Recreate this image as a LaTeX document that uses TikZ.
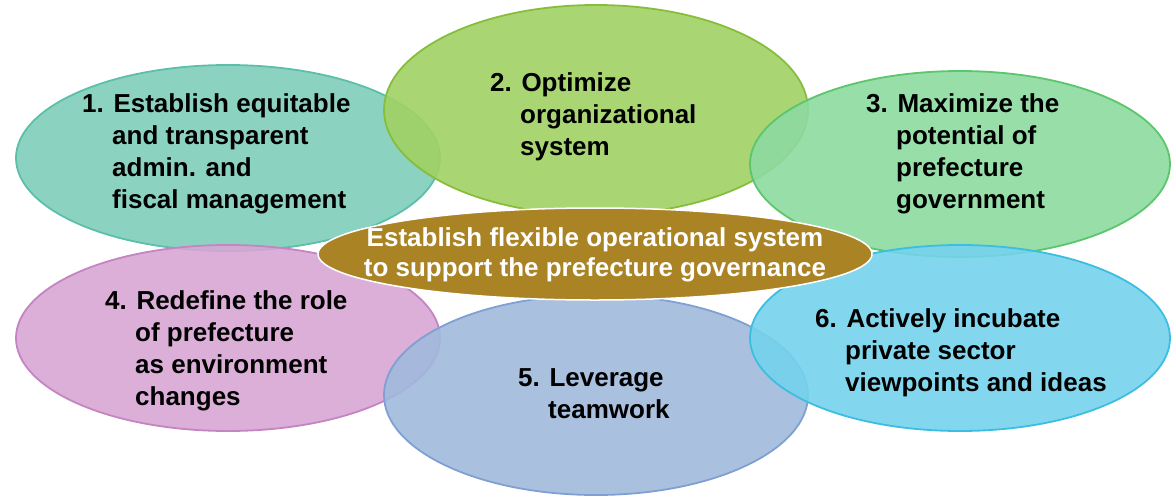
\documentclass[tikz,border=0pt]{standalone}
\usepackage{fontspec}
\setmainfont{Liberation Sans}
\usetikzlibrary{shapes.geometric}
\definecolor{tealfill}{HTML}{80CDB9}\definecolor{tealline}{HTML}{5CBFAA}
\definecolor{greenfill}{HTML}{A0D264}\definecolor{greenline}{HTML}{86BE3C}
\definecolor{mintfill}{HTML}{8CDAA0}\definecolor{mintline}{HTML}{5CC66C}
\definecolor{pinkfill}{HTML}{D7A6D3}\definecolor{pinkline}{HTML}{C584C2}
\definecolor{bluefill}{HTML}{A0B9DC}\definecolor{blueline}{HTML}{7FA0D2}
\definecolor{cyanfill}{HTML}{74D3EC}\definecolor{cyanline}{HTML}{3EBDE2}
\definecolor{corefill}{HTML}{AA8324}
\newcommand\ind{\hspace*{30pt}}
\begin{document}
\begin{tikzpicture}[x=1pt, y=-1pt,
  goal/.style = {ellipse, draw, line width=1.8pt, fill opacity=0.9, inner sep=0pt,
                 minimum width=424pt, minimum height=186pt},
  label/.style = {anchor=north west, align=left, inner sep=0pt,
                  font=\fontsize{26}{32}\selectfont\bfseries}]
  \useasboundingbox (0,0) rectangle (1171,499);
  % the six goals
  \node[goal, fill=tealfill, draw=tealline] (e1) at (228,158) {};
  \node[goal, fill=greenfill, draw=greenline, minimum height=210pt] (e2) at (596,110) {};
  \node[goal, fill=mintfill, draw=mintline, minimum width=420pt] (e3) at (960,164) {};
  \node[goal, fill=pinkfill, draw=pinkline] (e4) at (228,338) {};
  \node[goal, fill=bluefill, draw=blueline, minimum height=200pt] (e5) at (596,395) {};
  \node[goal, fill=cyanfill, draw=cyanline, minimum width=420pt] (e6) at (960,338) {};
  % core
  \node[ellipse, draw=white, line width=1.5pt, fill=corefill, inner sep=0pt,
        minimum width=554pt, minimum height=92pt] (core) at (595,254) {};
  \node[text=white, align=center, inner sep=0pt,
        font=\fontsize{26}{30}\selectfont\bfseries] (coretext) at (595,255)
        {Establish flexible operational system\\to support the prefecture governance};
  % texts
  \node[label] (t1) at (82,93) {1. Establish equitable\\\ind and transparent\\\ind admin. and\\\ind fiscal management};
  \node[label] (t2) at (490,72) {2. Optimize\\\ind organizational\\\ind system};
  \node[label] (t3) at (866,93) {3. Maximize the\\\ind potential of\\\ind prefecture\\\ind government};
  \node[label] (t4) at (105,290) {4. Redefine the role\\\ind of prefecture\\\ind as environment\\\ind changes};
  \node[label] (t5) at (518,368) {5. Leverage\\\ind teamwork};
  \node[label] (t6) at (815,308) {6. Actively incubate\\\ind private sector\\\ind viewpoints and ideas};
\end{tikzpicture}
\end{document}
